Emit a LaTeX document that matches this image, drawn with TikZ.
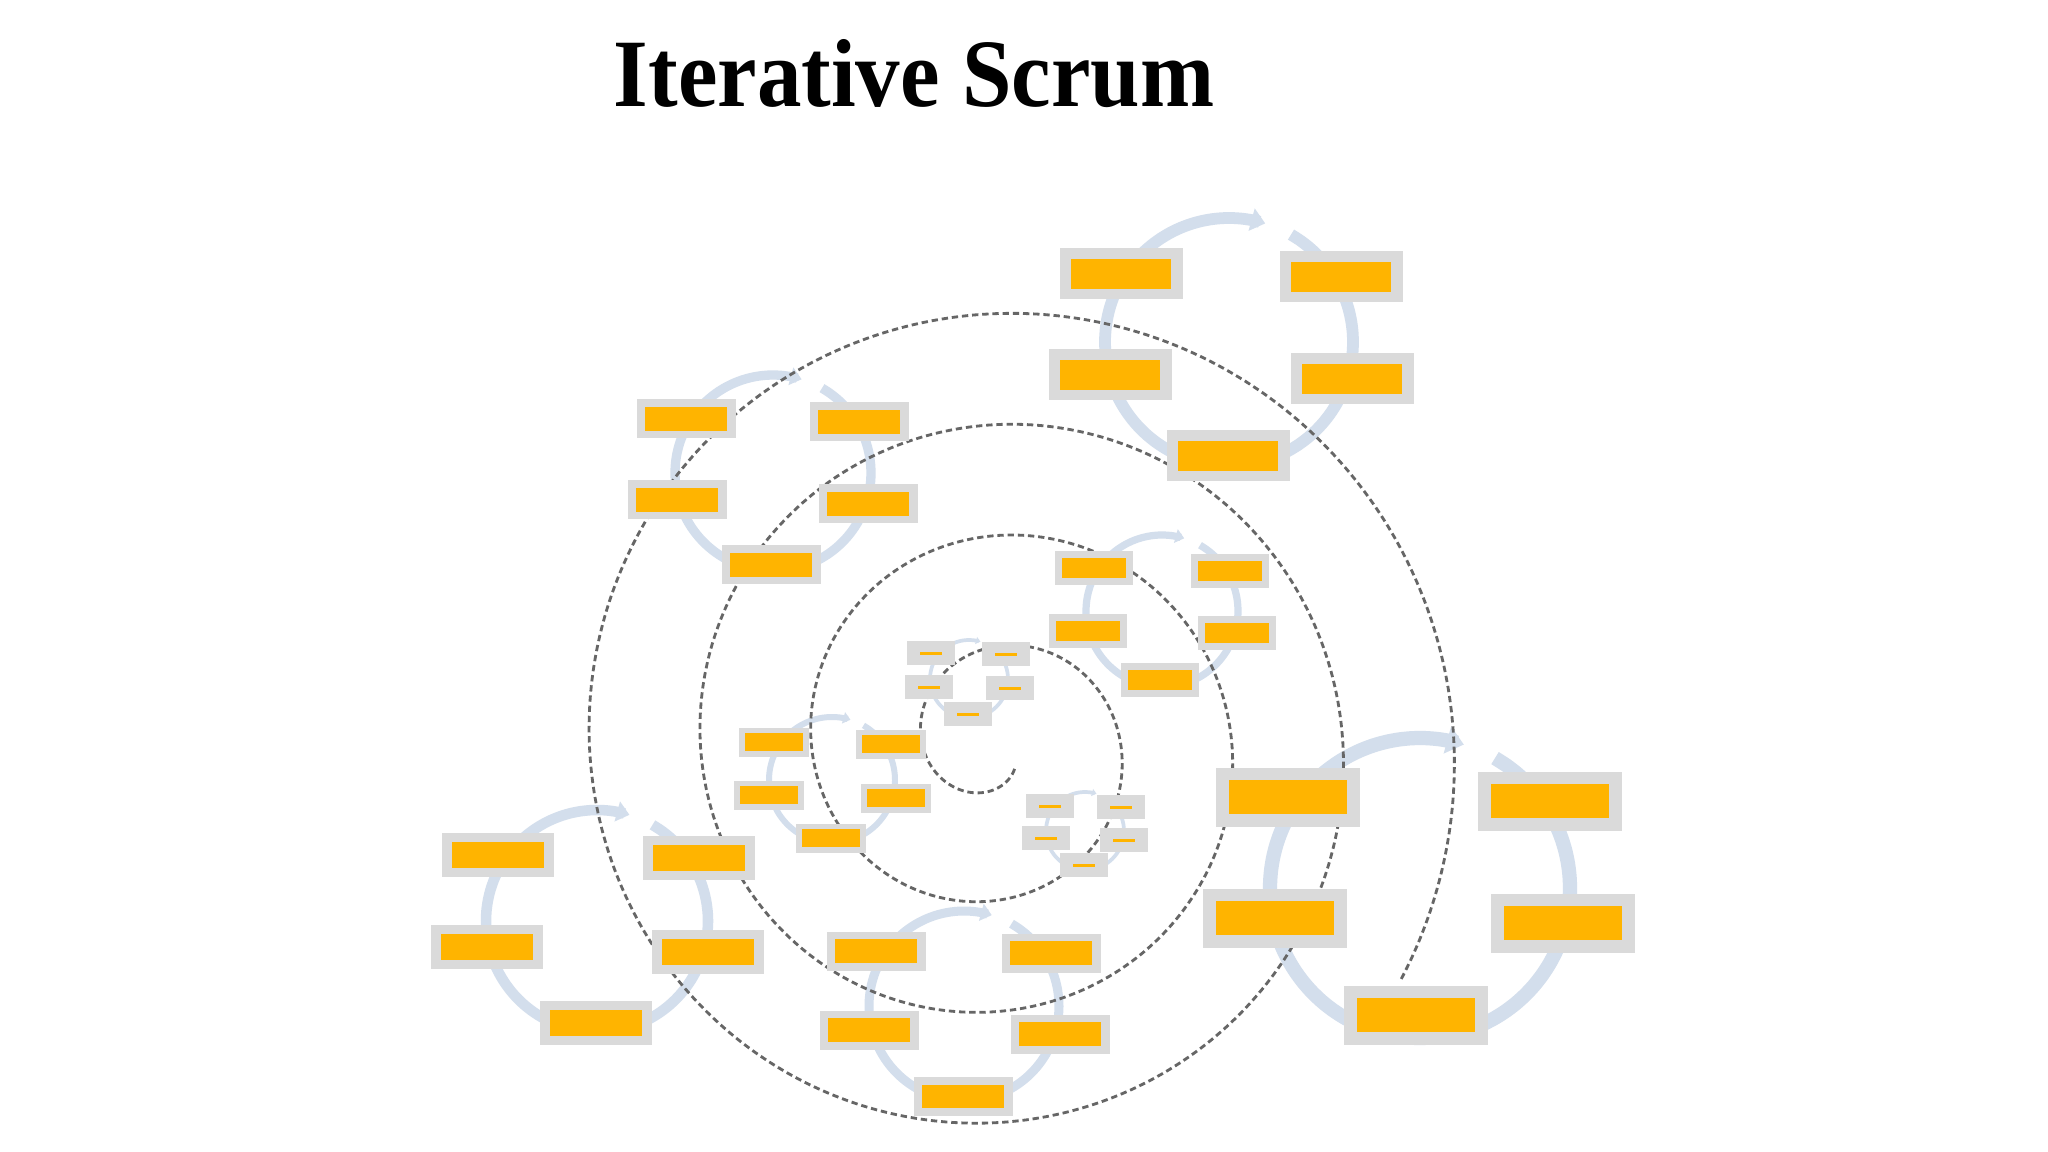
\documentclass[tikz,border=0pt]{standalone}
\usepackage{fontspec}
\usepackage{graphicx}
\setmainfont{Liberation Serif}
\usetikzlibrary{arrows.meta}
\definecolor{frm}{HTML}{DADADA}
\definecolor{org}{HTML}{FFB400}
\definecolor{rng}{HTML}{D3DEEC}
\definecolor{spl}{HTML}{666666}
\tikzset{
  frame/.style={fill=frm, draw=none, inner sep=0pt},
  core/.style={fill=org, draw=none, inner sep=0pt},
  ringline/.style={rng, line cap=butt, -{Triangle[length=0pt 1.2, width=0pt 1.9]}},
  spiralline/.style={spl, line width=0.8pt, dash pattern=on 1.8pt off 1.1pt},
}
\newcommand\ibox[5]{%
  \node[frame, minimum width=#4*0.01cm, minimum height=#5*0.01cm] (#1) at (#2,#3) {};
  \node[core, minimum width=0.82*#4*0.01cm, minimum height=0.59*#5*0.01cm] (#1c) at (#1) {};}
\newcommand\tbox[5]{%
  \node[frame, minimum width=#4*0.01cm, minimum height=#5*0.01cm] (#1) at (#2,#3) {};
  \node[core, minimum width=0.45*#4*0.01cm, minimum height=3*0.01cm] (#1c) at (#1) {};}
\newcommand\ring[4]{%
  \coordinate (#1) at (#2,#3);
  \draw[ringline, line width=0.095*#4*0.01cm] plot[smooth, domain=-60:287, samples=70] ({#2+#4*cos(\x)},{#3+#4*sin(\x)});}
\begin{document}
\begin{tikzpicture}[x=0.01cm, y=-0.01cm]
\useasboundingbox (0,0) rectangle (2048,1152);
\fill[white] (0,0) rectangle (2048,1152);
\node (title) at (914,74) {\resizebox{6.0cm}{0.67cm}{\bfseries Iterative Scrum}};
% rings
\ring{rA}{1229}{342}{124}
\ring{rB}{773}{473}{98}
\ring{rC}{1162}{611}{76}
\ring{rD}{969}{679}{39}
\ring{rE}{832}{780}{63}
\ring{rF}{1085}{831}{39}
\ring{rG}{1420}{888}{150}
\ring{rH}{597}{921}{111}
\ring{rI}{964}{1006}{95}
% spiral
\draw[spiralline] plot[smooth, domain=-312:1110, samples=500] ({994+(127+0.3084*\x)*cos(\x)},{746+(127+0.3084*\x)*sin(\x)});
% boxes
\ibox{a1}{1121}{274}{123}{51}\ibox{a2}{1341}{277}{123}{51}\ibox{a3}{1110}{375}{123}{51}\ibox{a4}{1352}{379}{123}{51}\ibox{a5}{1228}{456}{123}{51}
\ibox{b1}{686}{419}{99}{39}\ibox{b2}{859}{422}{99}{39}\ibox{b3}{677}{500}{99}{39}\ibox{b4}{868}{504}{99}{39}\ibox{b5}{771}{565}{99}{39}
\ibox{c1}{1094}{568}{78}{34}\ibox{c2}{1230}{571}{78}{34}\ibox{c3}{1088}{631}{78}{34}\ibox{c4}{1237}{633}{78}{34}\ibox{c5}{1160}{680}{78}{34}
\tbox{d1}{931}{653}{48}{24}\tbox{d2}{1006}{654}{48}{24}\tbox{d3}{929}{687}{48}{24}\tbox{d4}{1010}{688}{48}{24}\tbox{d5}{968}{714}{48}{24}
\ibox{e1}{774}{742}{70}{29}\ibox{e2}{891}{744}{70}{29}\ibox{e3}{769}{795}{70}{29}\ibox{e4}{896}{798}{70}{29}\ibox{e5}{831}{838}{70}{29}
\tbox{f1}{1050}{806}{48}{24}\tbox{f2}{1121}{807}{48}{24}\tbox{f3}{1046}{838}{48}{24}\tbox{f4}{1124}{840}{48}{24}\tbox{f5}{1084}{865}{48}{24}
\ibox{g1}{1288}{797}{144}{59}\ibox{g2}{1550}{801}{144}{59}\ibox{g3}{1275}{918}{144}{59}\ibox{g4}{1563}{923}{144}{59}\ibox{g5}{1416}{1015}{144}{59}
\ibox{h1}{498}{855}{112}{44}\ibox{h2}{699}{858}{112}{44}\ibox{h3}{487}{947}{112}{44}\ibox{h4}{708}{952}{112}{44}\ibox{h5}{596}{1023}{112}{44}
\ibox{i1}{876}{951}{99}{39}\ibox{i2}{1051}{953}{99}{39}\ibox{i3}{869}{1030}{99}{39}\ibox{i4}{1060}{1034}{99}{39}\ibox{i5}{963}{1096}{99}{39}
\end{tikzpicture}
\end{document}
